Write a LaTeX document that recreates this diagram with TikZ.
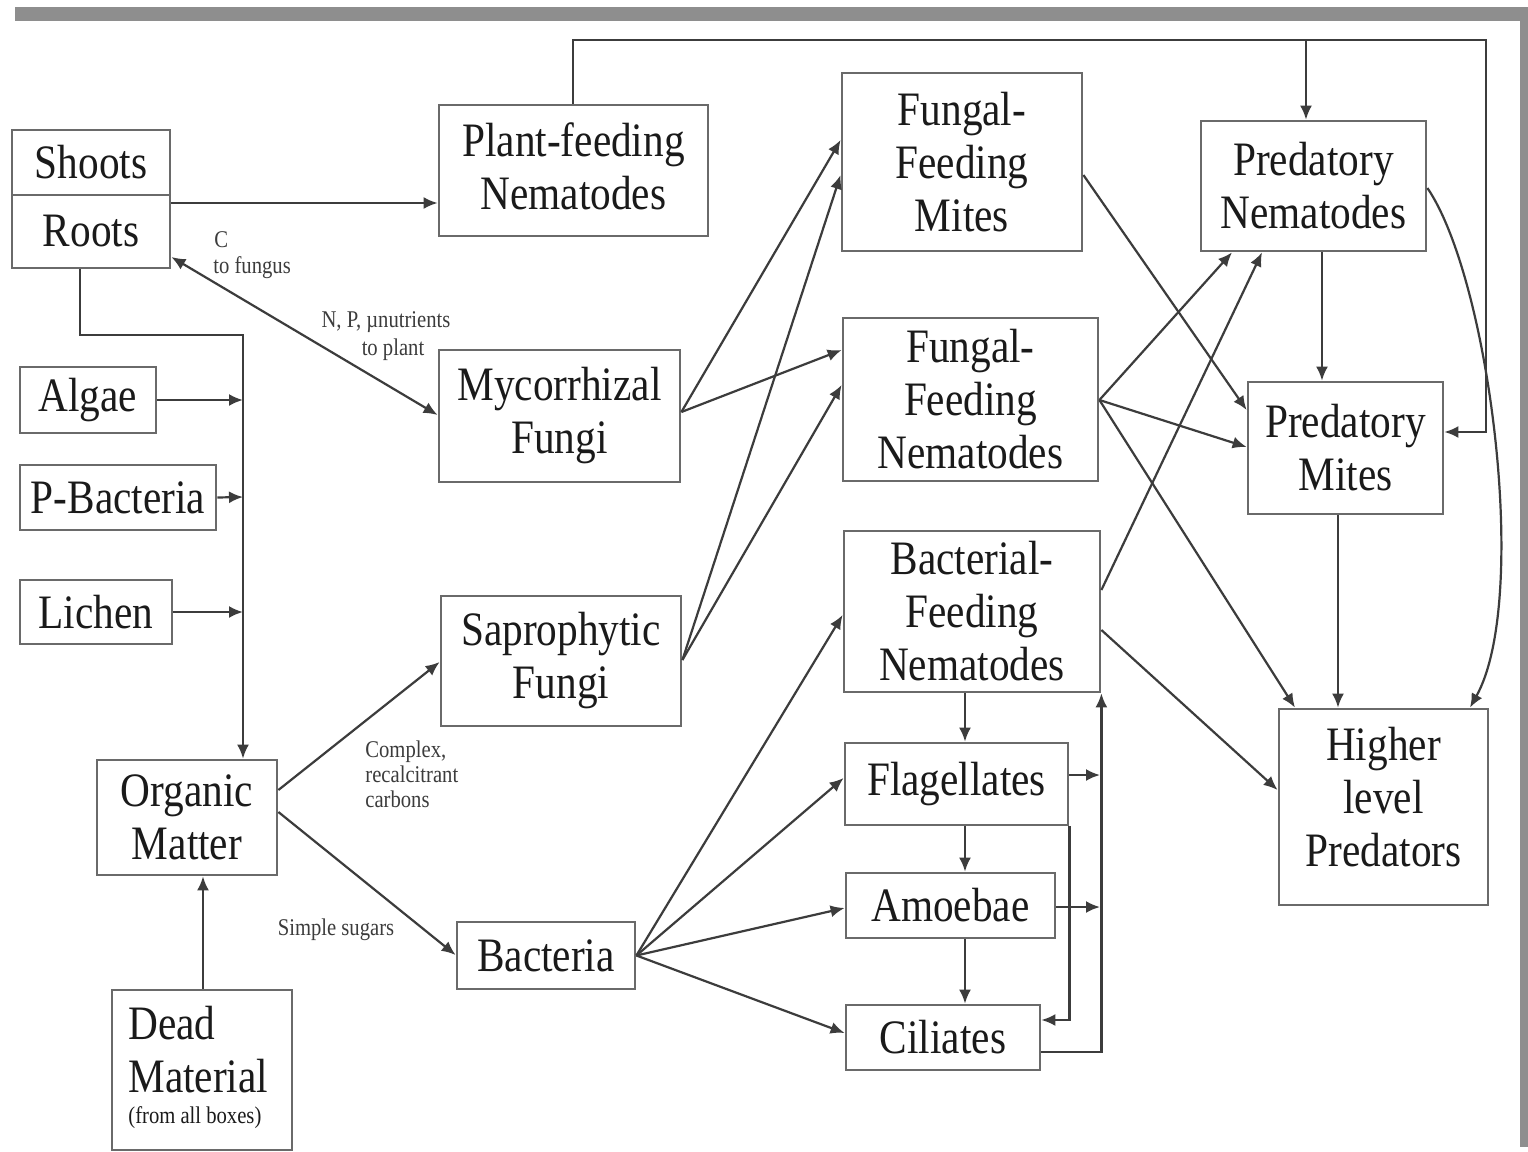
\documentclass[tikz,border=0pt]{standalone}
\usepackage{fontspec}
\setmainfont{Liberation Serif}[FakeStretch=0.86]
\usetikzlibrary{arrows.meta}
\definecolor{band}{HTML}{8E8E8E}
\definecolor{boxc}{HTML}{6A6A6A}
\definecolor{linec}{HTML}{3C3C3C}
\definecolor{txt}{HTML}{1A1A1A}
\begin{document}
\begin{tikzpicture}[x=0.5pt,y=-0.5pt,
  box/.style={draw=boxc, line width=1.4pt, inner sep=0pt, align=center, text=txt, font=\fontsize{24}{26.5}\selectfont},
  conn/.style={draw=linec, line width=1.1pt},
  arr/.style={conn, -{Latex[length=7pt,width=6pt]}},
  darr/.style={conn, {Latex[length=7pt,width=6pt]}-{Latex[length=7pt,width=6pt]}},
  lbl/.style={text=txt!85, font=\fontsize{12}{12.5}\selectfont, inner sep=0pt, align=left}]
\useasboundingbox (0,0) rectangle (1528,1152);
\fill[white] (0,0) rectangle (1528,1152);
% gray frame bands
\fill[band] (15,7) rectangle (1528,21);
\fill[band] (1520,7) rectangle (1528,1147);

% nodes
\node[box, minimum width=79pt, minimum height=32.5pt] (shoots) at (91,162.5) {Shoots};
\node[box, minimum width=79pt, minimum height=36.5pt] (roots) at (91,231.5) {Roots};
\node[box, minimum width=134.5pt, minimum height=65.5pt] (pfn) at (573.5,170.5) {};
\node[align=center, text=txt, inner sep=0pt, font=\fontsize{24}{26.5}\selectfont] (pfntxt) at (573.5,166) {Plant-feeding\\Nematodes};
\node[box, minimum width=120pt, minimum height=89pt] (ffm) at (962,162) {Fungal-\\Feeding\\Mites};
\node[box, minimum width=112.5pt, minimum height=65pt] (pn) at (1313.5,186) {Predatory\\Nematodes};
\node[box, minimum width=120.5pt, minimum height=66pt] (myc) at (559.5,416) {Mycorrhizal\\Fungi};
\node[box, minimum width=127.5pt, minimum height=81.5pt] (ffn) at (970.5,399.5) {Fungal-\\Feeding\\Nematodes};
\node[box, minimum width=97.5pt, minimum height=66pt] (pm) at (1345.5,448) {Predatory\\Mites};
\node[box, minimum width=68pt, minimum height=33pt] (algae) at (88,400) {Algae};
\node[box, minimum width=98pt, minimum height=32.5pt] (pbac) at (118,497.5) {P-Bacteria};
\node[box, minimum width=76pt, minimum height=32pt] (lichen) at (96,612) {Lichen};
\node[box, minimum width=120pt, minimum height=65pt] (sap) at (561,661) {Saprophytic\\Fungi};
\node[box, minimum width=128pt, minimum height=80.5pt] (bfn) at (972,611.5) {Bacterial-\\Feeding\\Nematodes};
\node[box, minimum width=104.5pt, minimum height=98pt] (hlp) at (1383.5,807) {};
\node[align=center, text=txt, inner sep=0pt, font=\fontsize{24}{26.5}\selectfont] (hlptxt) at (1383.5,797) {Higher\\level\\Predators};
\node[box, minimum width=90pt, minimum height=57.5pt] (om) at (187,817.5) {Organic\\Matter};
\node[box, minimum width=111.5pt, minimum height=41pt] (flag) at (956.5,784) {Flagellates};
\node[box, minimum width=104.5pt, minimum height=32.5pt] (amoe) at (950.5,905.5) {Amoebae};
\node[box, minimum width=97pt, minimum height=32.5pt] (cil) at (943,1037.5) {Ciliates};
\node[box, minimum width=89pt, minimum height=33.5pt] (bact) at (546,955.5) {Bacteria};
\node[box, minimum width=90pt, minimum height=80pt] (deadbox) at (202,1070) {};
\node[align=left, text=txt, inner sep=0pt, anchor=north west, font=\fontsize{24}{26.5}\selectfont] (deadtxt) at (128,1006) {Dead\\Material\\[-11pt]{\fontsize{12}{12}\selectfont (from all boxes)}};

% labels
\node[lbl, anchor=west] (lc) at (214,240) {C};
\node[lbl, anchor=west] (lfung) at (213,268) {to fungus};
\node[lbl] (lnp) at (386,322) {N, P, µnutrients};
\node[lbl] (lplant) at (393,350) {to plant};
\node[lbl, anchor=north west] (lcomp) at (365,740) {Complex,\\recalcitrant\\carbons};
\node[lbl] (lsug) at (336,930) {Simple sugars};

% junction coordinates
\coordinate (jtop) at (1306,40);
\coordinate (jalg) at (243,400);
\coordinate (jpb) at (243,497);
\coordinate (jli) at (243,612);
\coordinate (jfl) at (1100,775);
\coordinate (jam) at (1100,907);

% connectors: left part
\draw[arr] (roots.east |- 0,203) -- (pfn.west |- 0,203);
\draw[darr] (roots.east |- 0,257) -- (myc.west |- 0,415);
\draw[arr] (roots.south -| 80,0) |- (243,335) -- (om.north -| 243,0);
\draw[arr] (algae.east) -- (jalg);
\draw[arr] (pbac.east) -- (jpb);
\draw[arr] (lichen.east) -- (jli);
\draw[arr] (deadbox.north -| 203,0) -- (om.south -| 203,0);
\draw[arr] (om.east |- 0,790) -- (sap.west |- 0,662);
\draw[arr] (om.east |- 0,812) -- (bact.west |- 0,955);

% fungi to fungal feeders
\draw[arr] (myc.east |- 0,412) -- (ffm.west |- 0,140);
\draw[arr] (myc.east |- 0,412) -- (ffn.west |- 0,350);
\draw[arr] (sap.east |- 0,660) -- (ffm.west |- 0,175);
\draw[arr] (sap.east |- 0,660) -- (ffn.west |- 0,385);

% bacteria to bacterial feeders
\draw[arr] (bact.east) -- (bfn.west |- 0,615);
\draw[arr] (bact.east) -- (flag.west |- 0,778);
\draw[arr] (bact.east) -- (amoe.west |- 0,908);
\draw[arr] (bact.east) -- (cil.west |- 0,1033);

% protist chain
\draw[arr] (bfn.south -| 965,0) -- (flag.north -| 965,0);
\draw[arr] (flag.south -| 965,0) -- (amoe.north -| 965,0);
\draw[arr] (amoe.south -| 965,0) -- (cil.north -| 965,0);
\draw[arr] (flag.east |- 0,775) -- (jfl);
\draw[arr] (amoe.east |- 0,907) -- (jam);
\draw[arr] (cil.east |- 0,1052) -| (bfn.south east);
\draw[arr] (flag.south east) |- (cil.east |- 0,1020);

% to predators
\draw[arr] (ffm.east |- 0,175) -- (pm.west |- 0,410);
\draw[arr] (ffn.east |- 0,400) -- (pn.south -| 1232,0);
\draw[arr] (ffn.east |- 0,400) -- (pm.west |- 0,447);
\draw[arr] (ffn.east |- 0,400) -- (hlp.north -| 1295,0);
\draw[arr] (bfn.east |- 0,590) -- (pn.south -| 1262,0);
\draw[arr] (bfn.east |- 0,630) -- (hlp.west |- 0,790);
\draw[arr] (pn.south -| 1322,0) -- (pm.north -| 1322,0);
\draw[arr] (pm.south -| 1338,0) -- (hlp.north -| 1338,0);
\draw[arr] (pn.east |- 0,188) .. controls (1490,280) and (1530,600) .. (hlp.north -| 1470,0);

% top loop from plant-feeding nematodes
\draw[arr] (pfn.north -| 573,0) |- (1486,40) |- (pm.east |- 0,432);
\draw[arr] (jtop) -- (pn.north -| 1306,0);
\end{tikzpicture}
\end{document}
